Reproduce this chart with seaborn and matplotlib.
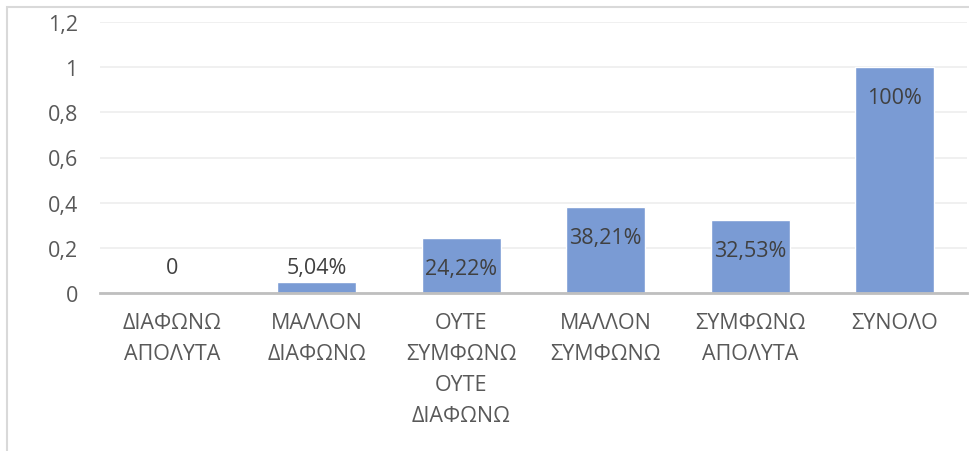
import matplotlib
matplotlib.use("Agg")
import matplotlib.pyplot as plt
import seaborn as sns
import pandas as pd
from matplotlib.patches import Rectangle
from matplotlib.ticker import FuncFormatter

categories = ["ΔΙΑΦΩΝΩ\nΑΠΟΛΥΤΑ", "ΜΑΛΛΟΝ\nΔΙΑΦΩΝΩ", "ΟΥΤΕ\nΣΥΜΦΩΝΩ\nΟΥΤΕ\nΔΙΑΦΩΝΩ",
              "ΜΑΛΛΟΝ\nΣΥΜΦΩΝΩ", "ΣΥΜΦΩΝΩ\nΑΠΟΛΥΤΑ", "ΣΥΝΟΛΟ"]
values = [0, 0.0504, 0.2422, 0.3821, 0.3253, 1.0]
value_labels = ["0", "5,04%", "24,22%", "38,21%", "32,53%", "100%"]
yticks = [0, 0.2, 0.4, 0.6, 0.8, 1.0, 1.2]

sns.set_style("white")
plt.rcParams["font.family"] = ["Open Sans", "DejaVu Sans"]

text_col = "#595959"
bar_col = "#7A9BD4"
fs = 15.5

df = pd.DataFrame({"cat": categories, "val": values})

fig = plt.figure(figsize=(9.69, 4.52), dpi=100)
ax = fig.add_axes([100 / 969, 1 - 294 / 452, 867 / 969, 271 / 452])

sns.barplot(data=df, x="cat", y="val", color=bar_col, saturation=1, width=0.55, ax=ax)

ax.set_ylim(0, 1.2)
ax.set_xlim(-0.5, 5.5)
ax.set_yticks(yticks)
ax.yaxis.set_major_formatter(FuncFormatter(lambda v, p: ("%g" % round(v, 1)).replace(".", ",")))
ax.grid(axis="y", color="#EDEDED", linewidth=1.2)
ax.set_axisbelow(True)
for s in ["top", "right", "left"]:
    ax.spines[s].set_visible(False)
ax.spines["bottom"].set_color("#BFBFBF")
ax.spines["bottom"].set_linewidth(2)
ax.set_xlabel("")
ax.set_ylabel("")
ax.tick_params(axis="y", length=0, pad=16, labelsize=fs, labelcolor=text_col)
ax.tick_params(axis="x", length=0, pad=14, labelsize=fs, labelcolor=text_col)
for lbl in ax.get_xticklabels():
    lbl.set_linespacing(1.62)
    lbl.set_verticalalignment("top")

# value labels: inside the bar top when tall enough, otherwise above
for i, (v, t) in enumerate(zip(values, value_labels)):
    if v > 0.15:
        dy = -22
    elif v == 0:
        dy = 18
    else:
        dy = 10
    ax.annotate(t, (i, v), xytext=(0, dy), textcoords="offset points",
                ha="center", va="center", fontsize=fs, color="#404040")

# chart frame like the spreadsheet export
fig.patches.append(Rectangle((7 / 969, -0.1), 1.2, 1 - 8 / 452 + 0.1, transform=fig.transFigure,
                             fill=False, edgecolor="#D9D9D9", linewidth=1.5, zorder=0))

fig.savefig("out.png", dpi=100, facecolor="white")
